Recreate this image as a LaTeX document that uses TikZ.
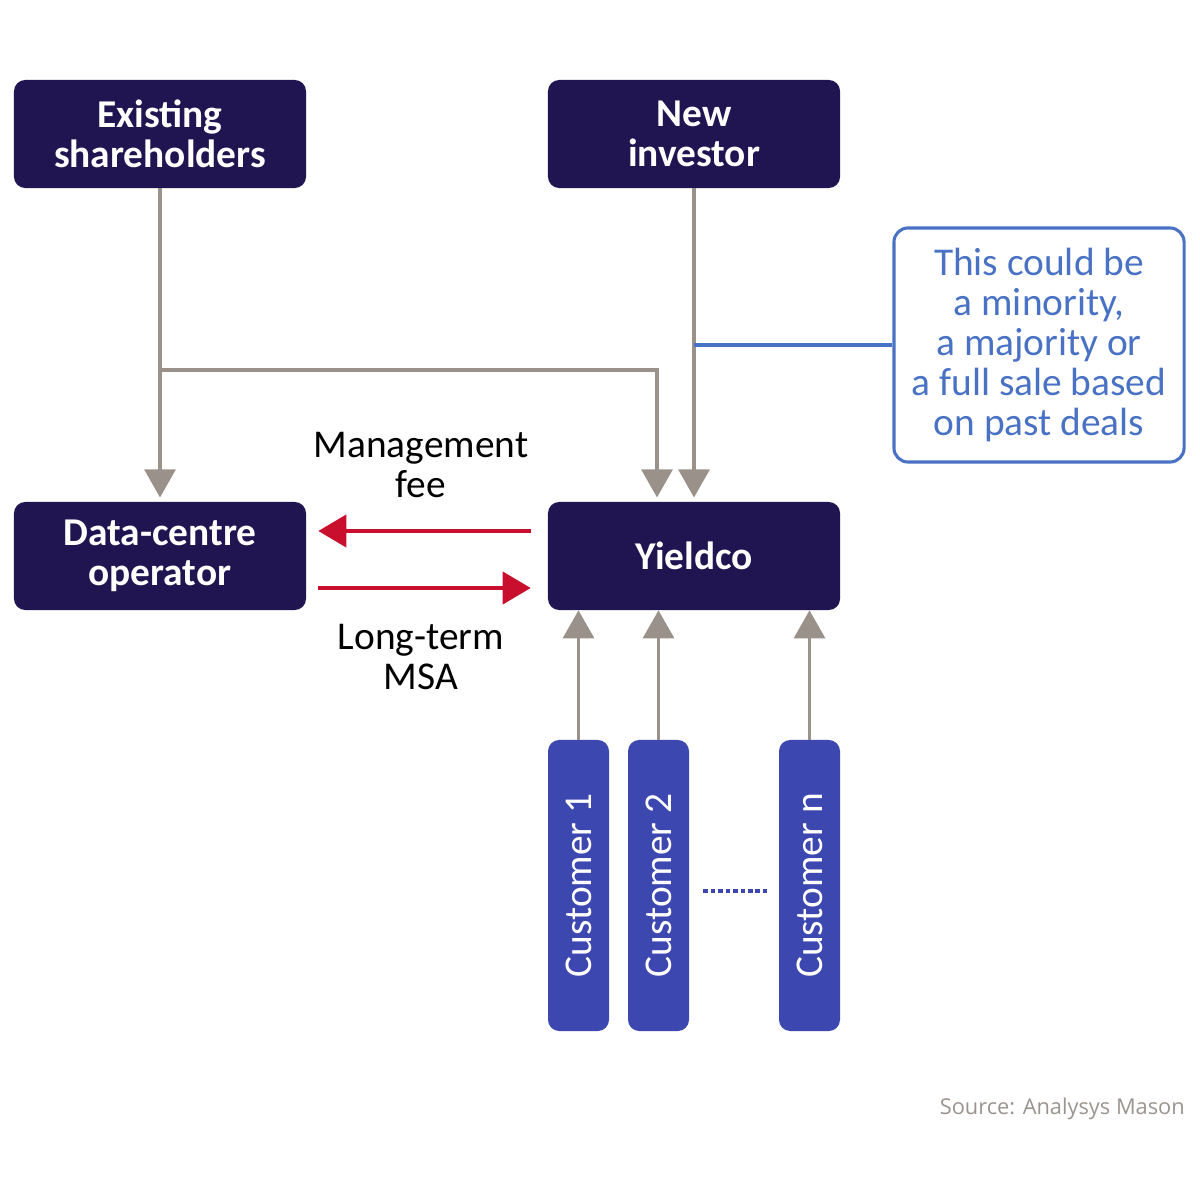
\documentclass[tikz,border=0pt]{standalone}
\usepackage{fontspec}
\setmainfont{Carlito}
\newfontfamily\srcfont{Open Sans}
\usetikzlibrary{arrows.meta,calc}
\definecolor{navy}{HTML}{211551}
\definecolor{custblue}{HTML}{3D47B0}
\definecolor{arrgray}{HTML}{9A928A}
\definecolor{arrred}{HTML}{C8102E}
\definecolor{noteblue}{HTML}{4A72C4}
\definecolor{srcgray}{HTML}{9A948E}
\begin{document}
\begin{tikzpicture}[x=0.025cm,y=-0.025cm,
  darkbox/.style={rectangle,rounded corners=8pt,fill=navy,text=white,
    minimum width=7.3cm,minimum height=2.7cm,align=center,inner sep=0pt,
    font=\fontsize{28pt}{28.5pt}\selectfont\bfseries},
  custbox/.style={rectangle,rounded corners=8pt,fill=custblue,text=white,
    minimum width=1.525cm,minimum height=7.275cm,inner sep=0pt,
    font=\fontsize{28pt}{28.5pt}\selectfont},
  notebox/.style={rectangle,rounded corners=10pt,draw=noteblue,line width=2.2pt,
    text=noteblue,minimum width=7.25cm,minimum height=5.85cm,align=center,inner sep=0pt,
    font=\fontsize{28pt}{28.5pt}\selectfont},
  lbl/.style={align=center,inner sep=0pt,font=\fontsize{28pt}{28.5pt}\selectfont},
  garrow/.style={draw=arrgray,line width=2.6pt,-{Triangle[length=20pt,width=22pt]}},
  rarrow/.style={draw=arrred,line width=2.6pt,-{Triangle[length=20pt,width=23pt]}},
  bline/.style={draw=noteblue,line width=2.4pt}
]
\useasboundingbox (0,0) rectangle (1200,1200);

\node[darkbox] (es) at (160,134) {Existing\\shareholders};
\node[darkbox] (ni) at (694,134) {New\\investor};
\node[darkbox] (dco) at (160,556) {Data-centre\\operator};
\node[darkbox] (yc) at (694,556) {Yieldco};
\node[notebox] (note) at (1039,345) {This could be\\a minority,\\a majority or\\a full sale based\\on past deals};

\node[custbox] (c1) at (578.5,885.5) {\rotatebox{90}{Customer 1}};
\node[custbox] (c2) at (658.5,885.5) {\rotatebox{90}{Customer 2}};
\node[custbox] (cn) at (809.5,885.5) {\rotatebox{90}{Customer n}};

\node[lbl] (mf) at (421,465) {Management\\fee};
\node[lbl] (lt) at (421,657) {Long-term\\MSA};
\node[anchor=east,inner sep=0pt,text=srcgray,font=\srcfont\fontsize{15.5pt}{17pt}\selectfont] (src) at (1185,1109) {Source: Analysys Mason};

\coordinate (j1) at (160,370);
\coordinate (b1) at (694,345);

\draw[garrow,shorten >=3pt] (es) -- (dco);
\draw[garrow,shorten >=3pt] (j1) -| ($(yc.north)+(-37,0)$);
\draw[garrow,shorten >=3pt] (ni) -- (yc);
\draw[bline] (b1) -- (note.west);

\draw[rarrow] ($(yc.west)+(-17,-25)$) -- ($(dco.east)+(12,-25)$);
\draw[rarrow] ($(dco.east)+(12,32)$) -- ($(yc.west)+(-17,32)$);

\draw[garrow] (c1.north) -- (c1.north |- yc.south);
\draw[garrow] (c2.north) -- (c2.north |- yc.south);
\draw[garrow] (cn.north) -- (cn.north |- yc.south);

\draw[draw=custblue,line width=2.8pt,dash pattern=on 3.2pt off 2.1pt,shorten <=14*0.7113pt,shorten >=11*0.7113pt]
  ($(c2.east)+(0,5.5)$) -- ($(cn.west)+(0,5.5)$);
\end{tikzpicture}
\end{document}
